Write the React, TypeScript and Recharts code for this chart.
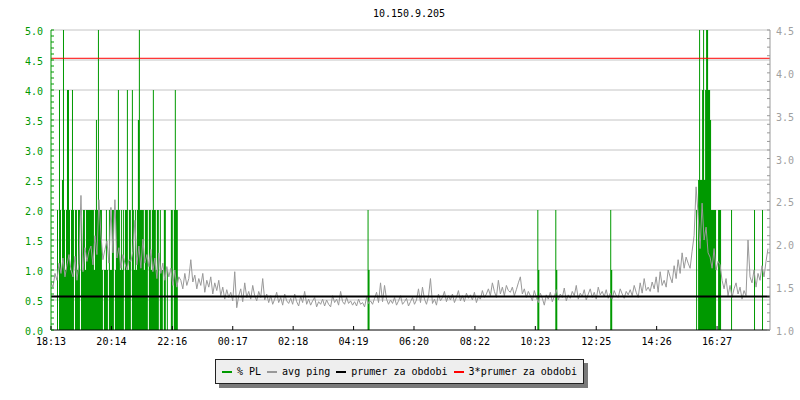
// Smokeping-style 24h graph for one host: % packet loss (green steps, left
// axis) under the avg ping trace (gray, right axis), with the period mean
// and 3x mean drawn as flat reference lines.

import {
  ComposedChart,
  Area,
  Line,
  XAxis,
  YAxis,
  CartesianGrid,
  ReferenceLine,
} from "recharts";

const TITLE = "10.150.9.205";

const GREEN = "#009900";
const GRAY = "#999999";
const GRID = "#c4c4c4";
const FONT = "'DejaVu Sans Mono', monospace";

// x axis: minutes after 18:13, one day
const SPAN_MIN = 1440;
const TIME_TICKS = [0, 121, 243, 364, 485, 606, 727, 849, 970, 1092, 1213, 1334];
const TIME_LABELS = [
  "18:13", "20:14", "22:16", "00:17", "02:18", "04:19",
  "06:20", "08:22", "10:23", "12:25", "14:26", "16:27",
];

// y axes
const LEFT_MAX = 5;
const LEFT_MAJOR = [0.5, 1, 1.5, 2, 2.5, 3, 3.5, 4, 4.5, 5];
const RIGHT_MAJOR = [1, 1.5, 2, 2.5, 3, 3.5, 4, 4.5];

// avg ping (right axis), one sample every 4 minutes
const PING_STEP = 4;
const AVG_PING = [
  1.55, 1.50, 1.66, 1.58, 1.78, 1.66, 1.84, 1.62, 1.76, 1.88,
  1.70, 1.62, 1.86, 1.58, 1.78, 2.57, 1.68, 1.96, 1.80, 1.92,
  1.98, 1.76, 2.10, 1.88, 2.52, 2.12, 1.82, 1.94, 2.04, 1.78,
  2.43, 1.90, 2.52, 1.84, 1.96, 1.72, 1.88, 1.78, 1.70, 1.82,
  1.80, 1.92, 2.28, 1.76, 1.98, 1.72, 2.06, 1.78, 1.88, 1.74,
  1.94, 1.68, 1.84, 1.60, 1.90, 1.66, 1.78, 1.58, 1.74, 1.62,
  1.72, 1.52, 1.70, 1.50, 1.62, 1.58, 1.48, 1.66, 1.52, 1.60,
  1.82, 1.56, 1.64, 1.48, 1.60, 1.52, 1.66, 1.44, 1.58, 1.50,
  1.62, 1.42, 1.55, 1.46, 1.58, 1.40, 1.50, 1.36, 1.47, 1.38,
  1.44, 1.34, 1.68, 1.26, 1.40, 1.48, 1.33, 1.55, 1.38, 1.45,
  1.36, 1.52, 1.40, 1.34, 1.45, 1.38, 1.60, 1.35, 1.42, 1.32,
  1.40, 1.30, 1.36, 1.44, 1.32, 1.38, 1.29, 1.42, 1.34, 1.31,
  1.37, 1.30, 1.42, 1.33, 1.28, 1.39, 1.32, 1.45, 1.30, 1.36,
  1.29, 1.34, 1.38, 1.27, 1.33, 1.30, 1.36, 1.28, 1.35, 1.30,
  1.27, 1.40, 1.32, 1.36, 1.29, 1.45, 1.33, 1.30, 1.38, 1.31,
  1.34, 1.29, 1.33, 1.28, 1.36, 1.30, 1.32, 1.27, 1.38, 1.31,
  1.34, 1.30, 1.37, 1.44, 1.32, 1.55, 1.33, 1.52, 1.36, 1.30,
  1.35, 1.31, 1.38, 1.29, 1.34, 1.40, 1.30, 1.33, 1.37, 1.28,
  1.33, 1.38, 1.30, 1.35, 1.48, 1.32, 1.50, 1.36, 1.30, 1.39,
  1.60, 1.31, 1.36, 1.29, 1.42, 1.34, 1.38, 1.45, 1.33, 1.40,
  1.35, 1.42, 1.32, 1.38, 1.46, 1.34, 1.40, 1.33, 1.43, 1.37,
  1.41, 1.35, 1.44, 1.32, 1.39, 1.36, 1.46, 1.38, 1.42, 1.48,
  1.40, 1.55, 1.45, 1.38, 1.58, 1.42, 1.50, 1.40, 1.52, 1.46,
  1.44, 1.50, 1.40, 1.47, 1.55, 1.62, 1.42, 1.48, 1.38, 1.45,
  1.40, 1.34, 1.46, 1.38, 1.32, 1.43, 1.37, 1.29, 1.41, 1.36,
  1.44, 1.33, 1.39, 1.47, 1.35, 1.42, 1.38, 1.49, 1.34, 1.41,
  1.37, 1.45, 1.40, 1.52, 1.36, 1.43, 1.39, 1.47, 1.35, 1.42,
  1.48, 1.38, 1.44, 1.36, 1.50, 1.41, 1.45, 1.39, 1.47, 1.37,
  1.43, 1.36, 1.46, 1.40, 1.38, 1.48, 1.42, 1.37, 1.45, 1.41,
  1.47, 1.40, 1.52, 1.44, 1.38, 1.55, 1.43, 1.60, 1.46, 1.50,
  1.45, 1.56, 1.48, 1.62, 1.44, 1.68, 1.52, 1.58, 1.50, 1.70,
  1.62, 1.55, 1.75, 1.60, 1.82, 1.66, 1.90, 1.72, 1.85, 1.78,
  1.72, 1.92, 2.10, 2.67, 2.35, 1.95, 2.48, 2.05, 2.20, 1.90,
  1.85, 1.72, 1.95, 1.70, 1.80, 1.76, 1.58, 1.48, 1.60, 1.40,
  1.52, 1.38, 1.48, 1.55, 1.42, 1.50, 1.36, 1.46, 1.40, 2.05,
  1.62, 1.55, 1.70, 1.50, 1.66, 1.58, 1.75, 1.62, 1.80, 1.95,
];

// period mean of avg ping and 3x that (right axis)
const PING_MEAN = 1.39;
const PING_MEAN_X3 = 4.17;

// % packet loss (left axis): runs of 2-minute samples, zero elsewhere
const PL_STEP = 2;
const PL_RUN_STARTS = [12, 634, 974, 1010, 1120, 1290, 1362, 1408, 1424];
const PL_RUN_VALUES = [
  [
    2, 0, 4, 2, 1, 2.5, 5, 2, 1, 2,
    4, 4, 2, 1, 2, 4, 2, 0, 2, 2,
    1, 2, 2, 0, 2, 1, 2, 2, 1, 2,
    2, 2, 2, 2, 2, 2, 2, 1, 2, 3.5,
    2, 5, 2, 2, 2, 1, 0, 1, 1, 2,
    1, 0, 2, 1, 1, 2, 2, 0, 1, 2,
    2, 4, 2, 1, 2, 1, 2, 0, 2, 2,
    4, 1, 2, 2, 0, 4, 2, 1, 2, 1,
    2, 3.5, 5, 2, 2, 2, 2, 1, 2, 2,
    2, 0, 2, 2, 1, 2, 4, 2, 2, 1,
    2, 2, 0, 2, 1, 1, 0, 2, 2, 0,
    1, 0, 0, 0, 2, 2, 0, 2, 4, 2,
    2, 0,
  ],
  [2, 1],
  [2, 1],
  [2, 1],
  [2, 1],
  [
    0, 2, 0, 2.5, 5, 2.5, 2.5, 4, 5, 2.5,
    4, 5, 5, 4, 4, 3.5, 2, 2, 2, 2,
    2, 0, 0, 2, 2, 2,
  ],
  [2],
  [2],
  [2],
];

const pingData = AVG_PING.map((v, i) => ({ t: i * PING_STEP, ping: v }));

const plData = (() => {
  const rows: { t: number; pl: number }[] = [{ t: 0, pl: 0 }];
  PL_RUN_STARTS.forEach((start, r) => {
    const vals = PL_RUN_VALUES[r];
    vals.forEach((v, i) => rows.push({ t: start + i * PL_STEP, pl: v }));
    rows.push({ t: start + vals.length * PL_STEP, pl: 0 });
  });
  rows.push({ t: SPAN_MIN, pl: 0 });
  return rows;
})();

const LEFT_TICKS = Array.from({ length: 51 }, (_, i) => i / 10);
const RIGHT_TICKS = Array.from({ length: 36 }, (_, i) => 1 + i / 10);

const isMajor = (v: number) => Math.abs(v * 2 - Math.round(v * 2)) < 1e-6;

const L_MARGIN = 8;
const R_MARGIN = 6;
const X_MARGIN = 2;

function LeftTick(props: any) {
  const { x, y, payload } = props;
  const v = payload.value as number;
  const ax = x + L_MARGIN;
  return (
    <g>
      <line x1={ax} x2={ax + 3} y1={y} y2={y} stroke={GREEN} />
      {isMajor(v) && (
        <text x={x} y={y + 5} textAnchor="end" fill={GREEN} fontSize={10} fontFamily={FONT}>
          {v.toFixed(1)}
        </text>
      )}
    </g>
  );
}

function RightTick(props: any) {
  const { x, y, payload } = props;
  const v = payload.value as number;
  const ax = x - R_MARGIN;
  return (
    <g>
      <line x1={ax - 3} x2={ax} y1={y} y2={y} stroke={GRAY} />
      {RIGHT_MAJOR.some((m) => Math.abs(m - v) < 1e-6) && (
        <text x={x} y={y + 5} textAnchor="start" fill="#a0a0a0" fontSize={10} fontFamily={FONT}>
          {v.toFixed(1)}
        </text>
      )}
    </g>
  );
}

function TimeTick(props: any) {
  const { x, y, payload } = props;
  const ay = y - X_MARGIN;
  const idx = TIME_TICKS.indexOf(payload.value);
  return (
    <g>
      <line x1={x} x2={x} y1={ay} y2={ay - 4} stroke="#000" />
      <text x={x} y={ay + 15} textAnchor="middle" fill="#000" fontSize={10} fontFamily={FONT}>
        {TIME_LABELS[idx]}
      </text>
    </g>
  );
}

// grid rows at the labelled left-axis levels only, placed from the
// plot offset so they sit beneath the series
const gridRows = (args: any) => {
  const off = args?.offset;
  if (!off || typeof off.top !== "number") return [];
  return LEFT_MAJOR.map((v) => off.top + off.height * (1 - v / LEFT_MAX));
};

const LEGEND = [
  { label: "% PL", color: GREEN },
  { label: "avg ping", color: GRAY },
  { label: "prumer za obdobi", color: "#000000" },
  { label: "3*prumer za obdobi", color: "#ff0000" },
];

export default function App() {
  return (
    <div
      style={{
        position: "absolute",
        left: 0,
        top: 0,
        width: 800,
        height: 400,
        background: "#fff",
        fontFamily: FONT,
      }}
    >
      <div
        style={{
          position: "absolute",
          left: 0,
          top: 8,
          width: 818,
          textAlign: "center",
          fontSize: 10,
          lineHeight: "12px",
          color: "#000",
        }}
      >
        {TITLE}
      </div>

      <ComposedChart
        width={800}
        height={400}
        margin={{ top: 30, right: 0, bottom: 50, left: 0 }}
      >
        <CartesianGrid
          yAxisId="left"
          vertical={false}
          stroke={GRID}
          horizontalCoordinatesGenerator={gridRows}
        />
        <XAxis
          type="number"
          dataKey="t"
          domain={[0, SPAN_MIN]}
          ticks={TIME_TICKS}
          allowDataOverflow
          height={20}
          tickSize={0}
          tickMargin={X_MARGIN}
          tick={TimeTick}
          axisLine={{ stroke: "#000" }}
        />
        <YAxis
          yAxisId="left"
          orientation="left"
          domain={[0, LEFT_MAX]}
          ticks={LEFT_TICKS}
          interval={0}
          width={51}
          tickSize={0}
          tickMargin={L_MARGIN}
          tick={LeftTick}
          axisLine={{ stroke: GREEN }}
          allowDataOverflow
        />
        <YAxis
          yAxisId="right"
          orientation="right"
          domain={[1, 4.5]}
          ticks={RIGHT_TICKS}
          interval={0}
          width={30}
          tickSize={0}
          tickMargin={R_MARGIN}
          tick={RightTick}
          axisLine={{ stroke: GRAY }}
          allowDataOverflow
        />

        <Area
          yAxisId="left"
          data={plData}
          dataKey="pl"
          type="stepAfter"
          stroke="none"
          fill={GREEN}
          fillOpacity={1}
          dot={false}
          activeDot={false}
          isAnimationActive={false}
        />
        <Line
          yAxisId="right"
          data={pingData}
          dataKey="ping"
          type="linear"
          stroke={GRAY}
          strokeWidth={1}
          dot={false}
          activeDot={false}
          isAnimationActive={false}
        />
        <ReferenceLine yAxisId="right" y={PING_MEAN} stroke="#000" strokeWidth={2} />
        <ReferenceLine yAxisId="right" y={PING_MEAN_X3} stroke="#ff0000" strokeWidth={1} />
      </ComposedChart>

      {/* legend box with rrd-style drop shadow */}
      <div
        style={{
          position: "absolute",
          left: 215,
          top: 359,
          width: 361,
          height: 23,
          background: "#eeeeee",
          border: "1px solid #222",
          boxShadow: "4px 4px 0 #7a7a7a",
          display: "flex",
          alignItems: "center",
          paddingLeft: 6,
          boxSizing: "content-box",
          fontSize: 10,
          color: "#000",
          whiteSpace: "nowrap",
        }}
      >
        {LEGEND.map((l) => (
          <span key={l.label} style={{ display: "inline-flex", alignItems: "center", marginRight: 6 }}>
            <span style={{ width: 10, height: 2, background: l.color, marginRight: 5 }} />
            {l.label}
          </span>
        ))}
      </div>
    </div>
  );
}
